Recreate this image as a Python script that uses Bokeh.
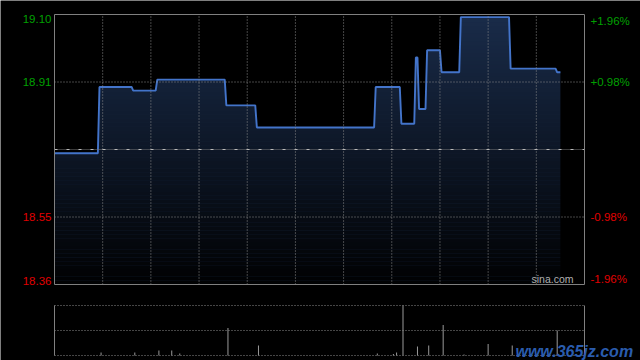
import numpy as np
from bokeh.plotting import figure
from bokeh.models import Range1d, Label
from bokeh.embed import file_html
from bokeh.resources import INLINE

# ---------------- data ----------------
prev_close = 18.73
total_minutes = 330

# intraday price line (minute index from open, price)
minutes = [0, 27, 28, 48, 49, 63, 64, 106, 107, 125, 126, 199, 200, 215, 216,
           224, 225, 226, 227, 231, 232, 240, 241, 252, 253, 283, 284, 312, 313, 315]
prices = [18.72, 18.72, 18.90, 18.90, 18.89, 18.89, 18.92, 18.92, 18.85, 18.85,
          18.79, 18.79, 18.90, 18.90, 18.80, 18.80, 18.98, 18.98, 18.84, 18.84,
          19.00, 19.00, 18.94, 18.94, 19.09, 19.09, 18.95, 18.95, 18.94, 18.94]

# volume bars
vol_minutes = [29, 50, 65, 73, 78, 108, 127, 201, 211, 213, 217, 226, 233, 242,
               255, 270, 285, 313]
volumes = [6, 6, 10, 10, 4, 55, 20, 4, 3, 6, 100, 18, 20, 61, 2, 23, 20, 50]

price_labels = ["19.10", "18.91", "18.55", "18.36"]
pct_labels = ["+1.96%", "+0.98%", "-0.98%", "-1.96%"]
pct_levels = [1.96, 0.98, -0.98, -1.96]
time_grid = [30, 60, 90, 120, 150, 180, 210, 240, 270, 300]

# ---------------- layout constants (pixels) ----------------
W, H = 640, 360
FRAME_L, FRAME_R = 54, 584
PRICE_TOP, PRICE_BOT = 14, 284
VOL_TOP, VOL_BOT = 305, 355

FONT = "Liberation Sans"
GREEN = "#00a000"
RED = "#e00000"
GRID = "#8a8a8a"
FRAME = "#808080"

ymax = prev_close * (1 + max(pct_levels) / 100)
ymin = prev_close * (1 + min(pct_levels) / 100)
vmax = max(volumes)

ppm = (FRAME_R - FRAME_L) / total_minutes          # px per minute
pps = (PRICE_BOT - PRICE_TOP) / (ymax - ymin)       # px per price unit
vps = (VOL_BOT - VOL_TOP) / vmax                    # px per volume unit

x_range = Range1d(-FRAME_L / ppm, (W - FRAME_L) / ppm)
y_range = Range1d(ymin - (H - PRICE_BOT) / pps, ymax + PRICE_TOP / pps)
vol_range = Range1d(-(H - VOL_BOT) / vps, vmax + VOL_TOP / vps)

p = figure(width=W, height=H, x_range=x_range, y_range=y_range,
           output_backend="svg", toolbar_location=None,
           x_axis_location=None, y_axis_location=None,
           min_border=0, min_border_left=0, min_border_right=0,
           min_border_top=0, min_border_bottom=0,
           background_fill_color="black", border_fill_color="black",
           outline_line_color=None)
p.extra_y_ranges = {"vol": vol_range}
p.center = []

# ---------------- price panel ----------------
p.varea(x=minutes, y1=ymin, y2=prices, fill_color="#1a2c4a", fill_alpha=1.0)

n = 70
edges = np.linspace(ymin, ymax, n + 1)
frac = (np.arange(n) + 0.5) / n
alphas = 0.96 * (1 - frac)
p.quad(left=0, right=total_minutes, bottom=edges[:-1], top=edges[1:],
       fill_color="black", fill_alpha=alphas, line_color=None)

p.line(minutes, prices, line_color="#4374ca", line_width=1.9)

# grid lines
p.segment(x0=time_grid, y0=ymin, x1=time_grid, y1=ymax,
          line_color=GRID, line_dash="1 2", line_width=1)
inner = [prev_close * (1 + pl / 100) for pl in pct_levels if abs(pl) < max(pct_levels)]
p.segment(x0=0, y0=inner, x1=total_minutes, y1=inner,
          line_color=GRID, line_dash="1 2", line_width=1)
p.segment(x0=0, y0=prev_close, x1=total_minutes, y1=prev_close,
          line_color="#777777", line_dash="1 1", line_width=1)
p.segment(x0=0, y0=prev_close, x1=total_minutes, y1=prev_close,
          line_color="#bbbbbb", line_dash="3 9", line_width=1)

# frame
p.quad(left=0, right=total_minutes, bottom=ymin, top=ymax,
       fill_color=None, line_color=FRAME, line_width=1)

# axis labels
for txt, ptxt, pl in zip(price_labels, pct_labels, pct_levels):
    yv = prev_close * (1 + pl / 100)
    col = GREEN if pl > 0 else RED
    if pl == max(pct_levels):
        base = "top"
    elif pl == min(pct_levels):
        base = "bottom"
    else:
        base = "middle"
    p.add_layout(Label(x=0, y=yv, x_offset=-3, text=txt, text_align="right",
                       text_baseline=base, text_color=col, text_font=FONT,
                       text_font_size="11.5px"))
    p.add_layout(Label(x=total_minutes, y=yv, x_offset=6, text=ptxt,
                       text_align="left", text_baseline=base, text_color=col,
                       text_font=FONT, text_font_size="11.5px"))

p.add_layout(Label(x=total_minutes, y=ymin, x_offset=-11, text="sina.com",
                   text_align="right", text_baseline="bottom",
                   text_color="#b0b0b0", text_font=FONT, text_font_size="10.5px"))

# ---------------- volume panel ----------------
p.segment(x0=vol_minutes, y0=0, x1=vol_minutes, y1=volumes,
          line_color="#9a9a9a", line_width=1, y_range_name="vol")
lv = [0, vmax / 2, vmax]
p.segment(x0=0, y0=lv, x1=total_minutes, y1=lv, line_color=GRID,
          line_dash="1 2", line_width=1, y_range_name="vol")
p.segment(x0=[0, total_minutes], y0=0, x1=[0, total_minutes], y1=vmax,
          line_color=FRAME, line_width=1, y_range_name="vol")

p.add_layout(Label(x=287, y=9, y_range_name="vol", text="www.365jz.com",
                   text_align="left", text_baseline="alphabetic",
                   text_color="#2a5cae", text_font=FONT, text_font_size="16px",
                   text_font_style="bold italic"))

open("out.html", "w").write(file_html(p, INLINE))
